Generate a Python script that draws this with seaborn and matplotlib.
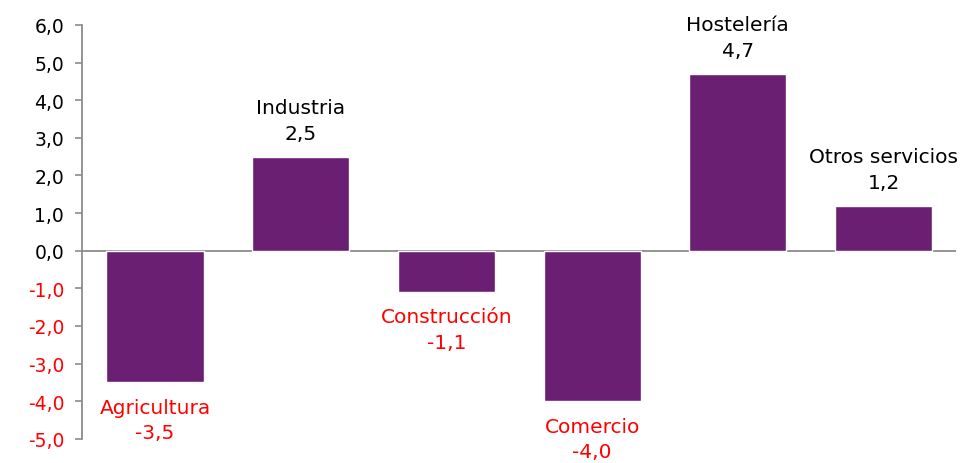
import matplotlib
matplotlib.use('Agg')
import matplotlib.pyplot as plt
import seaborn as sns
import numpy as np
import pandas as pd

sectores = ["Agricultura", "Industria", "Construcción", "Comercio", "Hostelería", "Otros servicios"]
valores = [-3.5, 2.5, -1.1, -4.0, 4.7, 1.2]
y_ticks = [-5, -4, -3, -2, -1, 0, 1, 2, 3, 4, 5, 6]

sns.set_style("white")
plt.rcParams["font.family"] = ["DejaVu Sans"]

BAR = "#6b1f73"
GRIS = "#8c8c8c"

df = pd.DataFrame({"sector": sectores, "valor": valores})

fig = plt.figure(figsize=(9.67, 4.64), dpi=100)
ax = fig.add_axes([0.085, 0.052, 0.904, 0.892])
sns.barplot(data=df, x="sector", y="valor", color=BAR, saturation=1,
            width=0.667, ax=ax)

ax.set_ylim(-5, 6)
ax.set_xlim(-0.5, len(sectores) - 0.5)
ax.axhline(0, color=GRIS, lw=1.3, zorder=0)
ax.set_yticks(y_ticks)
ax.set_yticklabels([f"{t:.1f}".replace(".", ",") for t in y_ticks], fontsize=13.5)
for lbl, t in zip(ax.get_yticklabels(), y_ticks):
    lbl.set_color("red" if t < 0 else "black")
ax.tick_params(axis="y", direction="out", length=5, width=1.2, color=GRIS, pad=8, left=True)
ax.set_xticks([])
ax.set_xlabel("")
ax.set_ylabel("")
sns.despine(ax=ax, bottom=True)
ax.spines["left"].set_color(GRIS)
ax.spines["left"].set_linewidth(1.3)

# etiquetas sobre/bajo cada barra
for i, (s, v) in enumerate(zip(sectores, valores)):
    txt = f"{s}\n{v:.1f}".replace(".", ",")
    if v >= 0:
        ax.annotate(txt, (i, v), xytext=(0, 10), textcoords="offset points",
                    ha="center", va="bottom", fontsize=14.5, color="black",
                    linespacing=1.45, annotation_clip=False)
    else:
        ax.annotate(txt, (i, v), xytext=(0, -11), textcoords="offset points",
                    ha="center", va="top", fontsize=14.5, color="red",
                    linespacing=1.45, annotation_clip=False)

fig.savefig("out.png", dpi=100)
